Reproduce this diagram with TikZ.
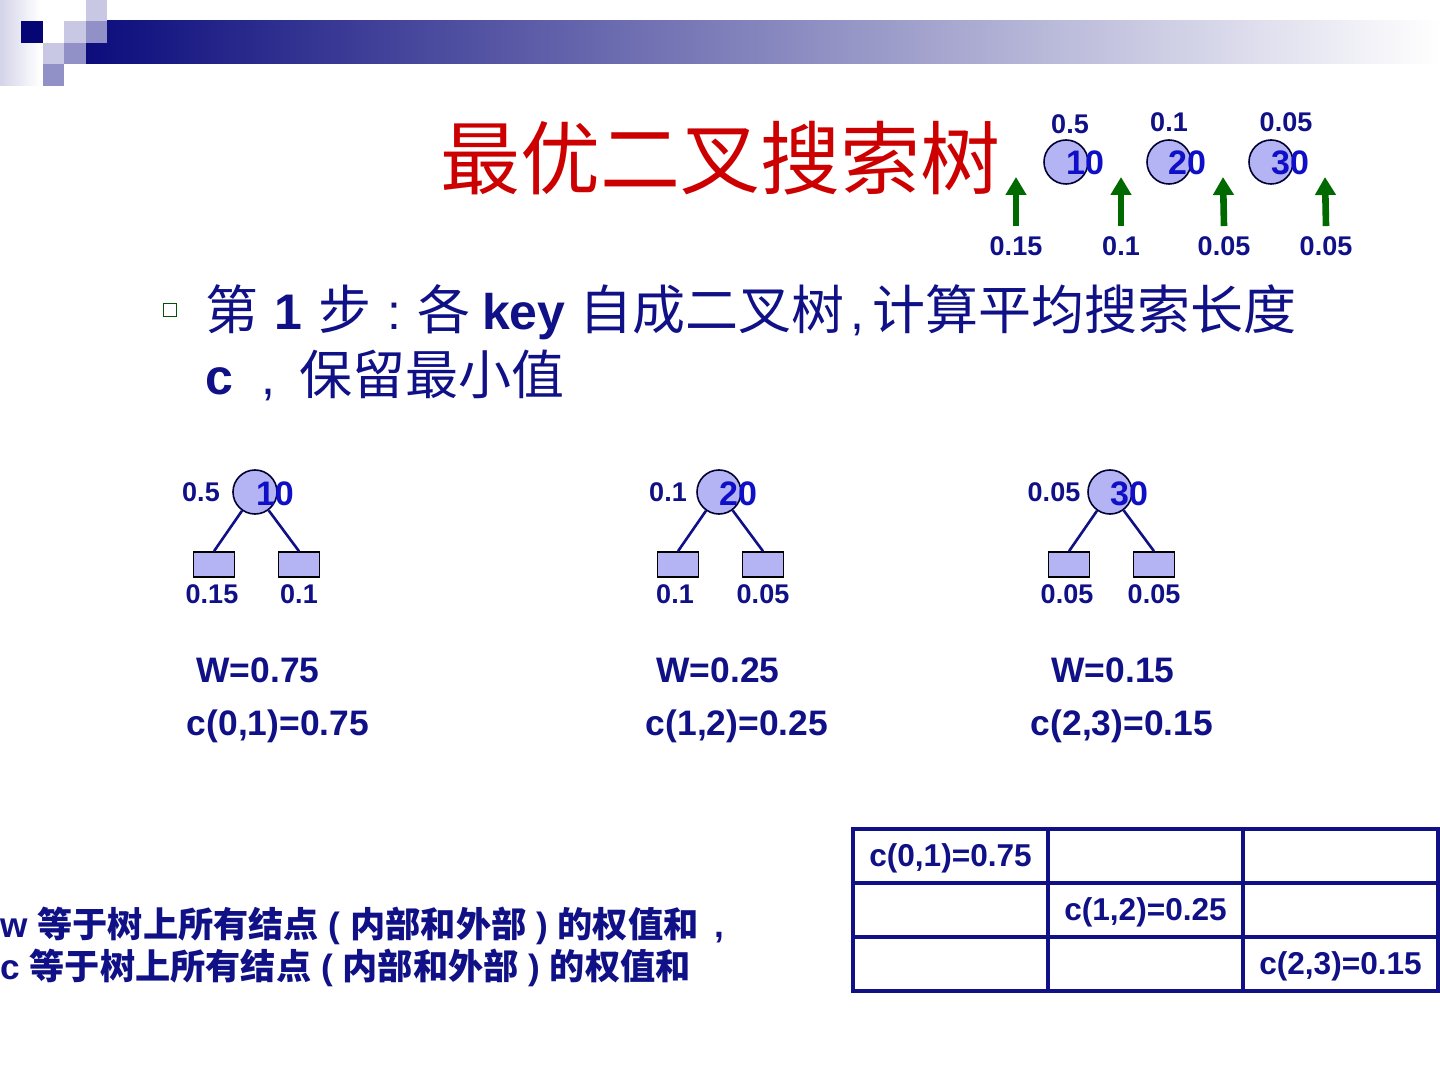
\documentclass[tikz,border=0pt]{standalone}
\usepackage{fontspec}
\setmainfont{Liberation Sans}
\newfontfamily\cjk{Noto Sans CJK SC}
\usetikzlibrary{arrows.meta}
\definecolor{navytxt}{RGB}{16,16,135}
\definecolor{numblue}{RGB}{15,15,200}
\definecolor{titlered}{RGB}{204,0,0}
\definecolor{nodefill}{RGB}{180,180,245}
\definecolor{arrgreen}{RGB}{0,105,0}
\definecolor{barnavy}{RGB}{12,12,125}
\definecolor{sqlight}{RGB}{200,200,228}
\definecolor{sqmed}{RGB}{145,145,200}
\definecolor{sqdark}{RGB}{5,5,115}
\newcommand\ck[1]{{\cjk #1}}
\newcommand\cb[1]{{\cjk\fontsize{26.5}{30}\selectfont #1}}
\begin{document}
\begin{tikzpicture}[x=0.5pt,y=-0.5pt,
  keynode/.style={circle,draw=black!80!blue,line width=0.8pt,fill=nodefill,minimum size=22pt,inner sep=0pt},
  leafnode/.style={rectangle,draw=black,line width=0.8pt,fill=nodefill,minimum width=20.5pt,minimum height=12.5pt,inner sep=0pt},
  keynum/.style={text=numblue,font=\bfseries\fontsize{17}{20}\selectfont,inner sep=0pt},
  prob/.style={text=navytxt,font=\bfseries\fontsize{13.5}{16}\selectfont,inner sep=0pt},
  bigtxt/.style={text=navytxt,font=\bfseries\fontsize{17.7}{21}\selectfont,inner sep=0pt},
  edge/.style={draw=navytxt,line width=1.3pt},
  garrow/.style={draw=arrgreen,line width=3.3pt,-{Triangle[width=10pt,length=9pt]}},
  cell/.style={rectangle,draw=navytxt,line width=1.8pt,minimum width=97.5pt,minimum height=27pt,inner sep=0pt},
  celltxt/.style={text=navytxt,font=\bfseries\fontsize{15.8}{18}\selectfont,inner sep=0pt},
  note/.style={anchor=west,text=navytxt,font=\bfseries\fontsize{17.6}{20}\selectfont,inner sep=0pt}
]
\useasboundingbox (0,0) rectangle (1440,1080);
\fill[white] (0,0) rectangle (1440,1080);
% header decoration
\shade[left color=sqlight!80, right color=white] (0,0) rectangle (40,86);
\shade[left color=barnavy, right color=white] (86,21) rectangle (1440,64);
\fill[sqdark] (21,21) rectangle (43,43);
\fill[sqlight] (43,43) rectangle (64,64);
\fill[sqlight] (64,21) rectangle (86,43);
\fill[sqlight] (86,0) rectangle (107,21);
\fill[sqmed] (64,43) rectangle (86,64);
\fill[sqmed] (86,21) rectangle (107,43);
\fill[sqmed] (43,64) rectangle (64,86);
% title
\node[text=titlered,font=\cjk\fontsize{40}{44}\selectfont,inner sep=0pt] (title) at (720,158) {最优二叉搜索树};
% top-right keys
\node[keynode] (t1) at (1066,162) {};
\node[keynode] (t2) at (1169,162) {};
\node[keynode] (t3) at (1271,162) {};
\node[keynum] (t1n) at (1085,163) {10};
\node[keynum] (t2n) at (1187,163) {20};
\node[keynum] (t3n) at (1290,163) {30};
\node[prob] (t1p) at (1070,124) {0.5};
\node[prob] (t2p) at (1169,122) {0.1};
\node[prob] (t3p) at (1286,122) {0.05};
\node[prob] (q0) at (1016,246) {0.15};
\node[prob] (q1) at (1121,246) {0.1};
\node[prob] (q2) at (1224,246) {0.05};
\node[prob] (q3) at (1326,246) {0.05};
\coordinate (a0) at (1016,177);
\coordinate (a1) at (1121,177);
\coordinate (a2) at (1223,177);
\coordinate (a3) at (1325,177);
\draw[garrow] ([yshift=5pt]q0.north) -- (a0);
\draw[garrow] ([yshift=5pt]q1.north) -- (a1);
\draw[garrow] ([yshift=5pt]q2.north) -- (a2);
\draw[garrow] ([yshift=5pt]q3.north) -- (a3);
% bullet
\node[draw=arrgreen!80!black,fill=white,line width=0.8pt,minimum size=6.5pt,inner sep=0pt] (bul) at (170,310) {};
\node[anchor=base west,text=navytxt,font=\fontsize{25}{28}\selectfont,inner sep=0pt] (line1) at (205,330)
  {\cb{第}\hspace{8pt}\textbf{1}\hspace{8pt}\cb{步}\hspace{8pt}:\hspace{8pt}\cb{各}\hspace{6pt}\textbf{key}\hspace{7pt}\cb{自成二叉树}\hspace{3pt},\hspace{4pt}\cb{计算平均搜索长度}};
\node[anchor=base west,text=navytxt,font=\fontsize{25}{28}\selectfont,inner sep=0pt] (line2) at (205,394)
  {\textbf{c}\hspace{14pt},\hspace{12pt}\cb{保留最小值}};
% tree 1
\node[keynode] (k1) at (255,492) {};
\node[keynum] (k1n) at (275,494) {10};
\node[prob] (k1p) at (201,492) {0.5};
\node[leafnode] (l1a) at (214,564.5) {};
\node[leafnode] (l1b) at (299,564.5) {};
\node[prob] (l1ap) at (212,594) {0.15};
\node[prob] (l1bp) at (299,594) {0.1};
\draw[edge] (k1) -- (l1a.north);
\draw[edge] (k1) -- (l1b.north);
% tree 2
\node[keynode] (k2) at (719,492) {};
\node[keynum] (k2n) at (738,494) {20};
\node[prob] (k2p) at (668,492) {0.1};
\node[leafnode] (l2a) at (678,564.5) {};
\node[leafnode] (l2b) at (763,564.5) {};
\node[prob] (l2ap) at (675,594) {0.1};
\node[prob] (l2bp) at (763,594) {0.05};
\draw[edge] (k2) -- (l2a.north);
\draw[edge] (k2) -- (l2b.north);
% tree 3
\node[keynode] (k3) at (1110,492) {};
\node[keynum] (k3n) at (1129,494) {30};
\node[prob] (k3p) at (1054,492) {0.05};
\node[leafnode] (l3a) at (1069,564.5) {};
\node[leafnode] (l3b) at (1154,564.5) {};
\node[prob] (l3ap) at (1067,594) {0.05};
\node[prob] (l3bp) at (1154,594) {0.05};
\draw[edge] (k3) -- (l3a.north);
\draw[edge] (k3) -- (l3b.north);
% W and c
\node[bigtxt] (w1) at (258,670) {W=0.75};
\node[bigtxt] (w2) at (718,670) {W=0.25};
\node[bigtxt] (w3) at (1113,670) {W=0.15};
\node[bigtxt] (c1) at (278,726) {c(0,1)=0.75};
\node[bigtxt] (c2) at (737,726) {c(1,2)=0.25};
\node[bigtxt] (c3) at (1122,726) {c(2,3)=0.15};
% table
\node[cell] (m11) at (950.5,856) {};
\node[cell] (m12) at (1145.5,856) {};
\node[cell] (m13) at (1340.5,856) {};
\node[cell] (m21) at (950.5,910) {};
\node[cell] (m22) at (1145.5,910) {};
\node[cell] (m23) at (1340.5,910) {};
\node[cell] (m31) at (950.5,964) {};
\node[cell] (m32) at (1145.5,964) {};
\node[cell] (m33) at (1340.5,964) {};
\node[celltxt] (m11t) at (950.5,858) {c(0,1)=0.75};
\node[celltxt] (m22t) at (1145.5,912) {c(1,2)=0.25};
\node[celltxt] (m33t) at (1340.5,966) {c(2,3)=0.15};
% bottom note
\node[note] (note1) at (0,926)
  {w \ck{\bfseries 等于树上所有结点} ( \ck{\bfseries 内部和外部} ) \ck{\bfseries 的权值和}\hspace{8pt},};
\node[note] (note2) at (0,968)
  {c \ck{\bfseries 等于树上所有结点} ( \ck{\bfseries 内部和外部} ) \ck{\bfseries 的权值和}};
\end{tikzpicture}
\end{document}
